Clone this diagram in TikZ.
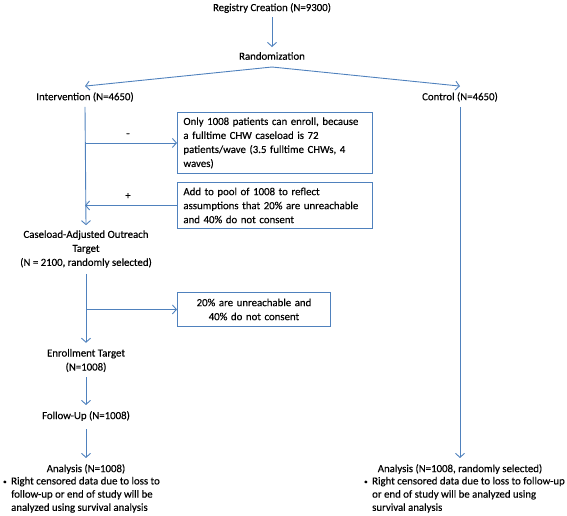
\documentclass[tikz,border=0pt]{standalone}
\usepackage{fontspec}
\setmainfont{Carlito}[FakeBold=0.25]
\usetikzlibrary{arrows.meta}
\definecolor{lblue}{HTML}{4F81BD}
\begin{document}
\begin{tikzpicture}[x=1pt,y=-1pt,
  txt/.style={font=\fontsize{10.8}{14}\selectfont, inner sep=0pt, align=center},
  box/.style={draw=lblue, line width=0.9pt, font=\fontsize{10.8}{14}\selectfont, inner xsep=6pt, inner ysep=0pt, anchor=north west},
  conn/.style={draw=lblue, line width=0.9pt},
  arr/.style={conn, -{Straight Barb[length=4pt,width=9pt]}}]
\useasboundingbox (0,0) rectangle (567,515);
% text nodes
\node[txt] (reg) at (272,8) {Registry Creation (N=9300)};
\node[txt] (rand) at (272,56) {Randomization};
\coordinate (apex) at (272,67);
\node[txt] (int) at (85,97) {Intervention (N=4650)};
\node[txt] (ctl) at (460,97) {Control (N=4650)};
\node[txt] (cas) at (86,249) {Caseload-Adjusted Outreach\\Target\\(N = 2100, randomly selected)};
\node[txt] (enr) at (86,360.5) {Enrollment Target\\(N=1008)};
\node[txt] (fu) at (86,416) {Follow-Up (N=1008)};
\node[txt] (an1) at (86,469) {Analysis (N=1008)};
\node[txt] (an2) at (460,469) {Analysis (N=1008, randomly selected)};
\node[txt, anchor=north west, align=left, font=\fontsize{10.8}{13.2}\selectfont] (bul1) at (3,475) {%
  \begin{tabular}{@{}l@{\hspace{4.5pt}}l@{}}
  \raisebox{0.5pt}{\scriptsize\textbullet} & Right censored data due to loss to\\
  & follow-up or end of study will be\\
  & analyzed using survival analysis
  \end{tabular}};
\node[txt, anchor=north west, align=left, font=\fontsize{10.8}{13.2}\selectfont] (bul2) at (364,475) {%
  \begin{tabular}{@{}l@{\hspace{4.5pt}}l@{}}
  \raisebox{0.5pt}{\scriptsize\textbullet} & Right censored data due to loss to follow-up\\
  & or end of study will be analyzed using\\
  & survival analysis
  \end{tabular}};
% boxes
\node[box, minimum width=195pt, minimum height=61pt, text width=183pt, align=left] (b1) at (177,112)
  {Only 1008 patients can enroll, because\\a fulltime CHW caseload is 72\\patients/wave (3.5 fulltime CHWs, 4\\waves)};
\node[box, minimum width=195pt, minimum height=46pt, text width=183pt, align=left] (b2) at (177,182)
  {Add to pool of 1008 to reflect\\assumptions that 20\% are unreachable\\and 40\% do not consent};
\node[box, minimum width=153pt, minimum height=34pt, text width=141pt, align=center] (b3) at (177,292)
  {20\% are unreachable and\\40\% do not consent};
% labels
\node[txt] (minus) at (128,135) {-};
\node[txt] (plus) at (128,196) {+};
% connectors
\draw[arr, shorten <=4pt, shorten >=5pt] (reg) -- (rand);
\draw[arr] (apex) -- ([yshift=6pt]int.north);
\draw[arr] (apex) -- ([yshift=6pt]ctl.north);
\draw[arr] ([yshift=-5pt]int.south) -- ([yshift=5pt]cas.north);
\draw[arr] (b1.west -| int.south) -- (b1.west);
\draw[arr] (b2.west) -- (b2.west -| int.south);
\draw[arr] ([yshift=-6pt]cas.south) -- ([yshift=6pt]enr.north);
\draw[arr] (b3.west -| cas.south) -- (b3.west);
\draw[arr] ([yshift=-5pt]enr.south) -- ([yshift=6pt]fu.north);
\draw[arr] ([yshift=-8pt]fu.south) -- ([yshift=6pt]an1.north);
\draw[arr] ([yshift=-5pt]ctl.south) -- ([yshift=6pt]an2.north);
\end{tikzpicture}
\end{document}
